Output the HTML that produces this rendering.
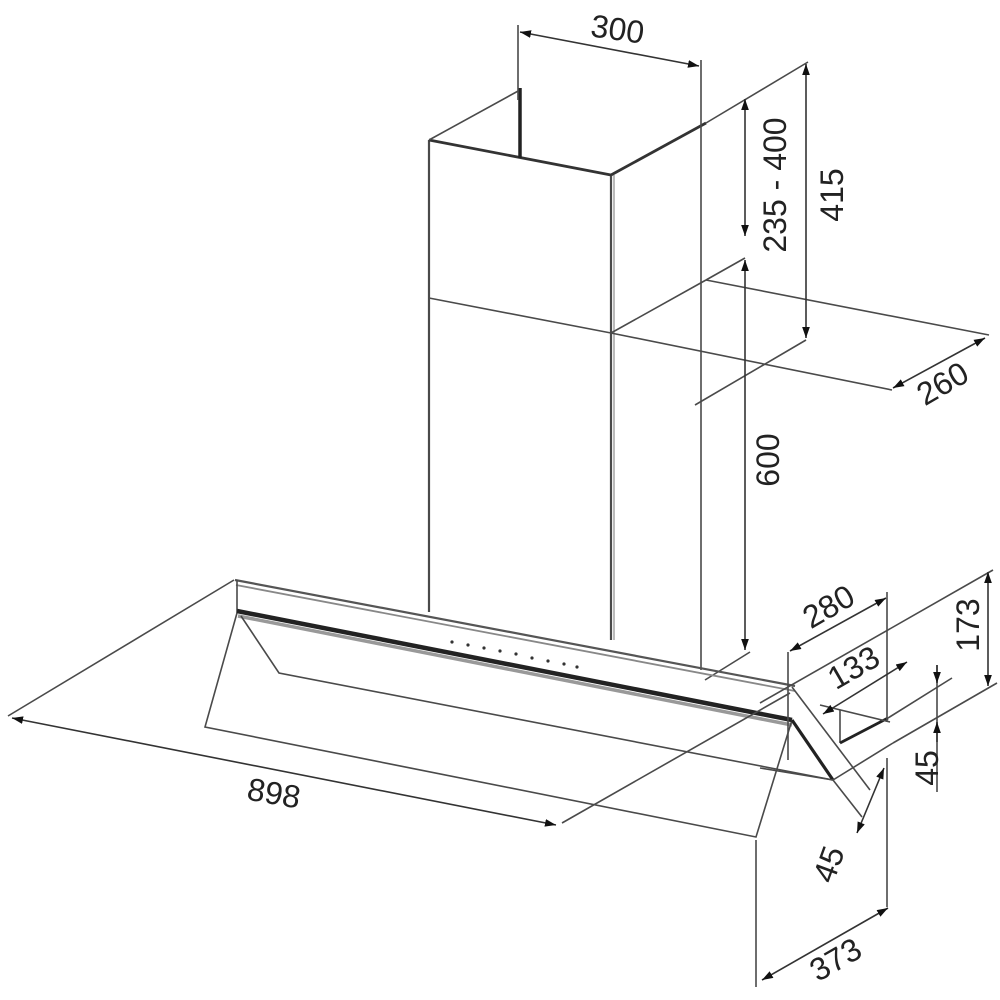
<!DOCTYPE html>
<html><head><meta charset="utf-8"><style>
html,body{margin:0;padding:0;background:#fff;}
svg{display:block;}
text{font-family:"Liberation Sans",sans-serif;font-size:32px;fill:#222;}
</style></head><body>
<svg width="1000" height="1000" viewBox="0 0 1000 1000" xmlns="http://www.w3.org/2000/svg">
<defs>
<marker id="a" viewBox="0 0 10 10" refX="10" refY="5" markerWidth="11" markerHeight="11" orient="auto-start-reverse" markerUnits="userSpaceOnUse"><path d="M0,1.5 L10,5 L0,8.5 z" fill="#111"/></marker>
</defs>
<g stroke="#4a4a4a" stroke-width="1.6" fill="none">
<!-- chimney -->
<line x1="429" y1="140" x2="429" y2="612" stroke-width="2.2"/>
<line x1="611" y1="175" x2="611" y2="640" stroke-width="2.2"/>
<line x1="614" y1="175" x2="614" y2="640" stroke="#aaa"/>
<line x1="429" y1="140" x2="611" y2="175" stroke="#333" stroke-width="2.8"/>
<line x1="429" y1="140" x2="520" y2="90"/>
<line x1="611" y1="175" x2="706" y2="123" stroke="#333" stroke-width="2.8"/>
<line x1="520" y1="88" x2="520" y2="158" stroke="#222" stroke-width="3.5"/>
<line x1="429" y1="298" x2="611" y2="333"/>
<line x1="611" y1="333" x2="706" y2="280"/>
<line x1="706" y1="280" x2="989" y2="335"/>
<line x1="611" y1="333" x2="892" y2="390"/>
<!-- 300 -->
<line x1="518" y1="25" x2="518" y2="100"/>
<line x1="701" y1="60" x2="701" y2="670"/>
<line x1="520" y1="32" x2="699" y2="66" stroke="#333" marker-start="url(#a)" marker-end="url(#a)"/>
<!-- 415 / 235-400 -->
<line x1="706" y1="123" x2="808" y2="62"/>
<line x1="806" y1="64" x2="806" y2="338" stroke="#333" marker-start="url(#a)" marker-end="url(#a)"/>
<line x1="806" y1="340" x2="695" y2="405"/>
<line x1="745" y1="99" x2="745" y2="236" stroke="#333" marker-start="url(#a)" marker-end="url(#a)"/>
<line x1="745" y1="258" x2="706" y2="280"/>
<line x1="745" y1="260" x2="745" y2="650" stroke="#333" marker-start="url(#a)" marker-end="url(#a)"/>
<line x1="750" y1="652" x2="705" y2="680"/>
<!-- 260 -->
<line x1="893" y1="388" x2="985" y2="338" stroke="#333" marker-start="url(#a)" marker-end="url(#a)"/>
<!-- hood -->
<line x1="235" y1="580" x2="795" y2="686" stroke="#555" stroke-width="2.2"/>
<line x1="236" y1="585" x2="795" y2="691" stroke="#888" stroke-width="1.8"/>
<line x1="237" y1="580" x2="237" y2="613"/>
<line x1="237" y1="611" x2="792" y2="720" stroke="#222" stroke-width="4.5"/>
<line x1="238" y1="616" x2="792" y2="725" stroke="#999" stroke-width="3.5"/>
<polyline points="237,613 205,727 756,837 792,720"/>
<polyline points="241,616 279,673 833,780"/>
<line x1="792" y1="720" x2="833" y2="780" stroke="#222" stroke-width="3.2"/>
<line x1="792" y1="687" x2="870" y2="790"/>
<line x1="833" y1="780" x2="862" y2="817"/>
<line x1="760" y1="768" x2="833" y2="780"/>
<line x1="840" y1="710" x2="840" y2="743"/>
<line x1="840" y1="743" x2="888" y2="718" stroke="#222" stroke-width="2.8"/>
<line x1="888" y1="718" x2="952" y2="678"/>
<line x1="833" y1="780" x2="893" y2="743"/>
<line x1="893" y1="743" x2="997" y2="683"/>
<line x1="760" y1="703" x2="993" y2="570"/>
<line x1="820" y1="705" x2="890" y2="722"/>
<!-- 898 -->
<line x1="234" y1="580" x2="8" y2="716"/>
<line x1="12" y1="718" x2="556" y2="825" stroke="#333" marker-start="url(#a)" marker-end="url(#a)"/>
<line x1="562" y1="823" x2="790" y2="693"/>
<!-- 280 / 133 / 173 / 45 / 373 -->
<line x1="788" y1="652" x2="788" y2="760"/>
<line x1="887" y1="592" x2="887" y2="722"/>
<line x1="887" y1="758" x2="887" y2="907"/>
<line x1="790" y1="651" x2="886" y2="598" stroke="#333" marker-start="url(#a)" marker-end="url(#a)"/>
<line x1="823" y1="714" x2="907" y2="662" stroke="#333" marker-start="url(#a)" marker-end="url(#a)"/>
<line x1="988" y1="572" x2="988" y2="686" stroke="#333" marker-start="url(#a)" marker-end="url(#a)"/>
<line x1="937" y1="665" x2="937" y2="792"/>
<line x1="937" y1="665" x2="937" y2="683" stroke="#333" marker-end="url(#a)"/>
<line x1="937" y1="742" x2="937" y2="722" stroke="#333" marker-end="url(#a)"/>
<line x1="884" y1="768" x2="857" y2="833" stroke="#333" marker-start="url(#a)" marker-end="url(#a)"/>
<line x1="756" y1="840" x2="756" y2="987"/>
<line x1="762" y1="980" x2="888" y2="908" stroke="#333" marker-start="url(#a)" marker-end="url(#a)"/>
</g>
<g fill="#333">
<circle cx="452" cy="642" r="1.6"/><circle cx="468" cy="645" r="1.6"/><circle cx="484" cy="648" r="1.6"/><circle cx="500" cy="651" r="1.6"/><circle cx="516" cy="654" r="1.6"/><circle cx="532" cy="658" r="1.6"/><circle cx="548" cy="661" r="1.6"/><circle cx="564" cy="664" r="1.6"/><circle cx="577" cy="667" r="1.6"/>
</g>
<text transform="translate(616,40) rotate(8)" text-anchor="middle">300</text>
<text transform="translate(786,185) rotate(-90)" text-anchor="middle">235 - 400</text>
<text transform="translate(843,195) rotate(-90)" text-anchor="middle">415</text>
<text transform="translate(779,460) rotate(-90)" text-anchor="middle">600</text>
<text transform="translate(948,393) rotate(-30)" text-anchor="middle">260</text>
<text transform="translate(272,804) rotate(10)" text-anchor="middle">898</text>
<text transform="translate(834,616) rotate(-30)" text-anchor="middle">280</text>
<text transform="translate(859,677) rotate(-30)" text-anchor="middle">133</text>
<text transform="translate(979,625) rotate(-90)" text-anchor="middle">173</text>
<text transform="translate(938,768) rotate(-90)" text-anchor="middle">45</text>
<text transform="translate(839,868) rotate(-70)" text-anchor="middle">45</text>
<text transform="translate(841,969) rotate(-30)" text-anchor="middle">373</text>
</svg>
</body></html>
